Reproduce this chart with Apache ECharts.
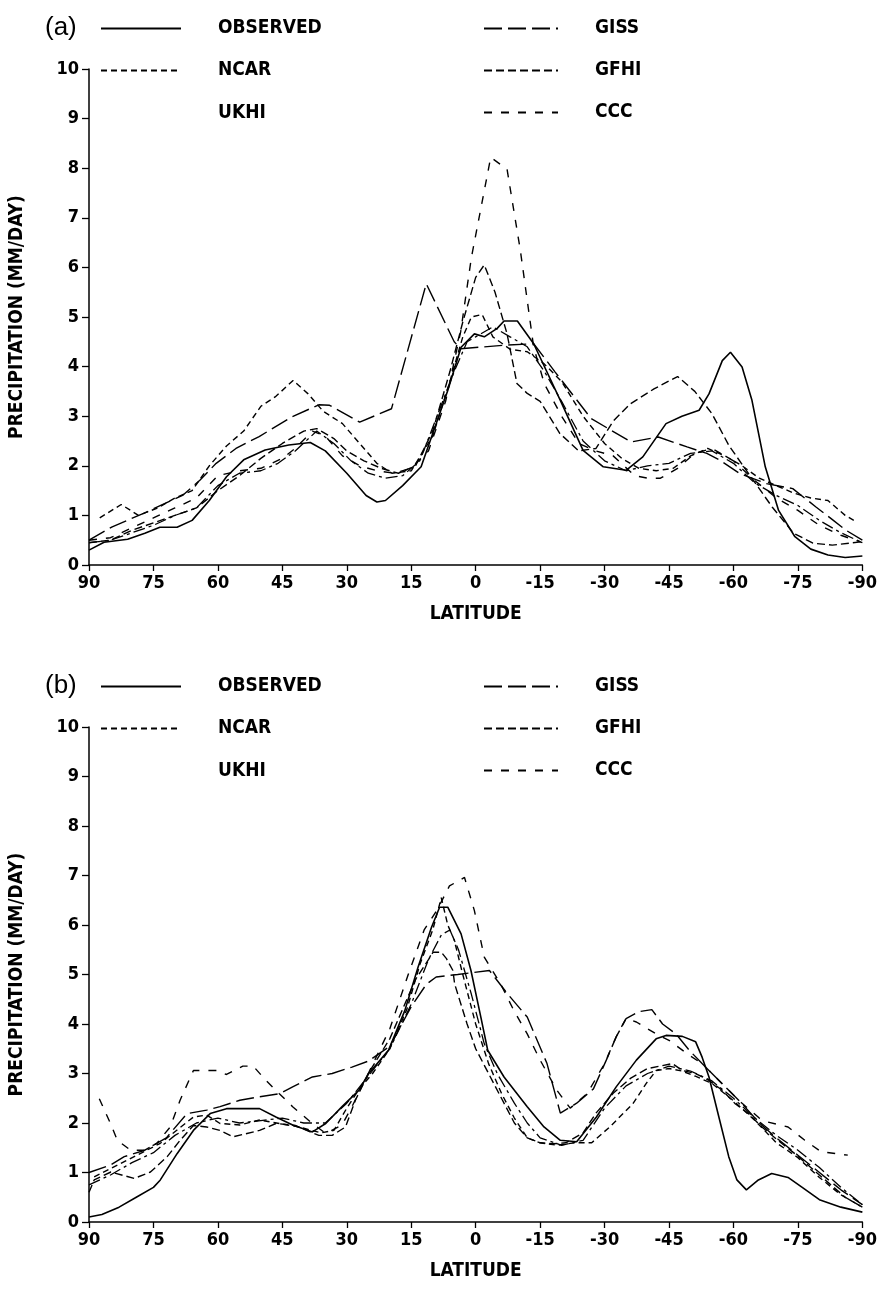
<!DOCTYPE html>
<html><head><meta charset="utf-8">
<script src="https://cdn.jsdelivr.net/npm/echarts@6/dist/echarts.min.js"></script>
<style>html,body{margin:0;padding:0;background:#fff}#c{width:880px;height:1302px}</style>
</head><body><div id="c"></div>
<script>
// ---------- data ----------
const X_TICKS = [90, 75, 60, 45, 30, 15, 0, -15, -30, -45, -60, -75, -90];
const SERIES_NAMES = ['OBSERVED', 'GISS', 'NCAR', 'GFHI', 'UKHI', 'CCC'];

// Panel (a)
const A_OBS_LAT = [90,86.5,81,77,73.5,69.5,66,62,58,54,49,43.5,38.5,35,30,25.5,23,21,17,12.7,9,6.5,3.4,0.3,-2,-5,-6.6,-9.7,-13.5,-19.7,-25,-29.7,-35,-38.9,-44.3,-48,-52,-54.3,-57.4,-59.3,-62,-64.3,-67.4,-70.5,-74.3,-78,-82,-86,-90];
const A_OBS = [0.30,0.46,0.52,0.64,0.76,0.76,0.90,1.30,1.78,2.12,2.32,2.42,2.47,2.30,1.85,1.40,1.27,1.30,1.60,1.98,2.90,3.52,4.39,4.66,4.60,4.77,4.92,4.92,4.46,3.32,2.31,1.98,1.91,2.18,2.85,3.00,3.12,3.45,4.12,4.29,3.99,3.32,1.98,1.10,0.57,0.32,0.20,0.15,0.18];

const A_GISS_LAT = [90,84.6,77.3,68.1,64.2,60.4,55.8,50.4,42.7,36.5,34,27,19.6,11.5,5,3.5,-6.5,-13.5,-18.5,-26.9,-36.2,-42.5,-49.2,-53.8,-56.9,-61.5,-67.7,-73.8,-79.2,-83.1,-86.2,-90];
const A_GISS = [0.50,0.77,1.04,1.41,1.71,2.05,2.35,2.59,2.99,3.23,3.22,2.88,3.15,5.67,4.50,4.36,4.43,4.46,3.89,2.95,2.48,2.58,2.38,2.25,2.11,1.84,1.64,1.54,1.17,0.91,0.70,0.50];

const A_NCAR_LAT = [87.5,82.5,78.5,74,70,66,62,58,54,50,46.5,42.5,39,35.5,31,27,23,19.5,15,10,6,3,1,-1.5,-4,-8,-12,-16,-20,-25,-30,-34,-38,-42,-46,-50,-54,-58,-62,-66,-70,-74,-78,-82,-86,-88];
const A_NCAR = [0.95,1.22,1.00,1.15,1.35,1.50,2.00,2.40,2.70,3.20,3.40,3.72,3.45,3.10,2.85,2.45,2.05,1.85,1.90,2.60,3.70,4.60,5.00,5.05,4.60,4.35,4.30,4.05,3.70,3.00,2.45,2.15,1.95,1.90,1.95,2.20,2.35,2.20,2.00,1.75,1.60,1.45,1.35,1.30,1.00,0.90];

const A_GFHI_LAT = [90,85,80,75,70,65,60,55,50,45,40,37,33,30,26,22,18,14,10,6,3,0,-2,-4.5,-7.3,-9.6,-12,-15,-19.6,-24,-28,-32,-36,-41.5,-47,-51,-55,-59,-64.6,-69,-74,-78.5,-83,-90];
const A_GFHI = [0.45,0.50,0.70,0.85,1.00,1.15,1.50,1.80,2.15,2.45,2.70,2.75,2.55,2.30,2.10,1.95,1.85,2.00,2.70,3.90,4.90,5.80,6.05,5.50,4.66,3.66,3.46,3.30,2.65,2.30,2.35,2.90,3.25,3.55,3.80,3.50,3.05,2.40,1.71,1.17,0.64,0.44,0.40,0.47];

const A_UKHI_LAT = [90,85,80,75,70,65,60,55,50,46,42,37,33,29,25,21,17,13,9,5,2,0,-4,-8,-12,-16,-20,-25,-30,-35,-40,-45,-50,-55,-60,-65,-70,-75,-80,-85,-90];
const A_UKHI = [0.45,0.50,0.65,0.80,1.00,1.15,1.60,1.85,1.90,2.05,2.30,2.70,2.45,2.10,1.85,1.75,1.80,2.10,3.00,3.90,4.50,4.60,4.80,4.60,4.40,3.90,3.30,2.50,2.10,1.90,2.00,2.05,2.25,2.30,2.05,1.65,1.40,1.20,0.90,0.65,0.45];

const A_CCC_LAT = [90,85,80,75,70,65,60,55,50,45,42,38,35,31,27,23,19,15,11,7,3.5,1,-3.5,-7.3,-10.4,-13.5,-16,-20,-24,-28,-32,-37,-40,-43,-47,-51,-55,-60,-65,-70,-75,-80,-85,-90];
const A_CCC = [0.50,0.55,0.75,0.95,1.15,1.35,1.80,1.90,1.95,2.15,2.35,2.70,2.60,2.20,2.00,1.90,1.85,1.95,2.30,3.30,4.70,6.20,8.22,7.98,6.34,4.39,3.65,3.00,2.45,2.30,2.20,1.80,1.75,1.75,1.95,2.25,2.35,2.10,1.70,1.35,1.10,0.80,0.60,0.45];

// Panel (b)
const B_OBS_LAT = [90,87,83,79,75,73.4,69.5,65.7,61.8,58,50.3,46.5,42.6,38,34.9,31.1,27.2,24.9,20.3,16.5,13.4,10.3,8.4,6.5,3.4,1.1,-1.2,-2.8,-6.6,-12,-15.9,-19.7,-23.5,-28.1,-32.7,-37.4,-42,-44.3,-48.1,-51.2,-52.7,-54.3,-56.6,-58.9,-60.8,-63,-65.8,-68.9,-72.7,-76,-80,-85,-90];
const B_OBS = [0.10,0.15,0.30,0.50,0.70,0.85,1.38,1.85,2.19,2.29,2.29,2.12,1.96,1.82,1.99,2.33,2.66,3.00,3.47,4.27,5.15,5.95,6.36,6.36,5.82,5.08,4.14,3.47,2.93,2.33,1.92,1.65,1.62,2.12,2.73,3.27,3.70,3.77,3.75,3.64,3.33,2.93,2.12,1.32,0.85,0.65,0.85,0.98,0.90,0.70,0.45,0.30,0.20];

const B_GISS_LAT = [90,85,81.8,77,72,67.2,62.6,59.5,54.9,50.3,45.7,42.6,38,33.4,28.8,25,20,15,11.5,9.2,4.2,-3.2,-7.4,-12,-16.6,-19.7,-23.5,-27.4,-30.4,-32.7,-35,-38,-41,-43.5,-46.6,-49.7,-52.7,-55,-58.9,-62,-66,-70,-75,-80,-85,-90];
const B_GISS = [1.00,1.15,1.32,1.45,1.70,2.19,2.26,2.33,2.46,2.53,2.59,2.73,2.93,3.00,3.13,3.25,3.55,4.35,4.80,4.95,5.00,5.08,4.61,4.14,3.20,2.20,2.40,2.69,3.27,3.74,4.11,4.25,4.29,4.00,3.80,3.47,3.20,3.00,2.66,2.39,2.00,1.70,1.35,1.00,0.65,0.35];

const B_NCAR_LAT = [88.8,81.1,73.4,65.7,62.6,59.5,54.9,50.3,45.7,41.1,36,33,30,27,24,20,16,13,10,8,6.5,5,3,0,-3,-6,-9,-12,-15,-19,-23,-27,-31.2,-36.6,-39.7,-42,-45,-48,-51,-55,-60,-65,-70,-75,-80,-85,-90];
const B_NCAR = [0.91,1.25,1.59,2.12,2.16,1.99,1.96,2.06,1.99,1.92,1.80,1.85,2.30,2.70,3.00,3.50,4.30,5.20,5.90,6.55,6.00,5.70,5.00,4.00,3.20,2.60,2.10,1.70,1.60,1.55,1.60,1.60,1.92,2.39,2.80,3.06,3.10,3.05,2.95,2.80,2.45,2.05,1.60,1.30,0.90,0.55,0.30];

const B_GFHI_LAT = [90,88.8,84.9,79.5,75.7,71.8,68.8,65.7,62.6,59.5,56.5,50.3,46.5,42,38,36.5,33.4,30.3,28,25,20,17,14,11,9.9,8,6.8,5.3,4.9,2,0,-3,-6,-9,-12,-15,-18,-21,-25,-28,-32,-36,-40,-45.8,-48.1,-51.2,-54.3,-57.4,-60.4,-63.5,-66.6,-71.2,-74.3,-78,-82,-86,-90];
const B_GFHI = [0.60,0.85,1.01,0.88,1.01,1.32,1.65,1.95,1.92,1.85,1.72,1.85,1.99,1.95,1.80,1.75,1.75,1.92,2.46,3.00,3.70,4.30,4.90,5.30,5.45,5.45,5.32,5.08,4.81,4.00,3.50,3.00,2.50,2.00,1.70,1.60,1.58,1.60,1.80,2.20,2.60,2.90,3.10,3.20,3.06,3.00,2.86,2.66,2.39,2.19,1.92,1.59,1.38,1.10,0.80,0.50,0.30];

const B_UKHI_LAT = [90,85,80,75,70,65,60,55,50,45,40,35,30,25,20,15,11,8,6,4,1,-2,-5,-9,-12,-15,-20,-25,-30,-35,-40,-45,-50,-55,-60,-65,-70,-75,-80,-85,-90];
const B_UKHI = [0.75,0.95,1.20,1.40,1.75,2.00,2.10,2.00,2.05,2.10,2.00,2.00,2.40,2.95,3.50,4.40,5.30,5.80,5.90,5.50,4.60,3.60,3.00,2.40,2.00,1.70,1.55,1.65,2.30,2.75,3.00,3.15,3.05,2.85,2.50,2.10,1.75,1.45,1.10,0.70,0.35];

const B_CCC_LAT = [87.6,85,83.4,80.3,77.2,74.2,71.1,68.8,65.7,60.3,58,54.2,51.8,48.8,45.7,42.6,38,34.9,31.1,28.8,25,20,15.7,12,9,6.1,2.6,0.3,-2,-5.8,-8.9,-12,-15,-18.9,-22,-26,-30,-33,-35,-37.4,-42,-45,-49.7,-52.7,-55.8,-58.9,-62,-66,-68,-72.7,-76.6,-80.4,-86.6];
const B_CCC = [2.49,1.99,1.65,1.45,1.45,1.59,1.92,2.46,3.06,3.06,2.98,3.15,3.15,2.86,2.59,2.33,1.99,1.79,1.96,2.33,3.00,3.90,5.00,5.90,6.30,6.79,6.96,6.29,5.35,4.81,4.27,3.80,3.27,2.66,2.30,2.60,3.20,3.80,4.11,4.04,3.80,3.67,3.37,3.20,2.93,2.66,2.40,2.10,2.02,1.92,1.65,1.42,1.35];

// ---------- chart ----------
const FONT = "'Liberation Sans Narrow','Arial Narrow','DejaVu Sans Condensed','Liberation Sans',sans-serif";
const STYLE = {
  OBSERVED: { type: 'solid', width: 1.6 },
  GISS: { type: [18, 6], width: 1.4 },
  NCAR: { type: [6, 4], width: 1.4 },
  GFHI: { type: [8, 4], width: 1.4 },
  UKHI: { type: [12, 4, 3, 4], width: 1.3 },
  CCC: { type: [8, 9], width: 1.4 }
};
function pairs(lat, val) {
  const n = Math.min(lat.length, val.length);
  const out = [];
  for (let i = 0; i < n; i++) out.push([lat[i], val[i]]);
  return out;
}
const PANELS = [
  { top: 69, height: 496, legendTop: 14, tag: '(a)', tagTop: 10, data: { OBSERVED: [A_OBS_LAT, A_OBS], GISS: [A_GISS_LAT, A_GISS], NCAR: [A_NCAR_LAT, A_NCAR], GFHI: [A_GFHI_LAT, A_GFHI], UKHI: [A_UKHI_LAT, A_UKHI], CCC: [A_CCC_LAT, A_CCC] } },
  { top: 727, height: 495, legendTop: 672, tag: '(b)', tagTop: 668, data: { OBSERVED: [B_OBS_LAT, B_OBS], GISS: [B_GISS_LAT, B_GISS], NCAR: [B_NCAR_LAT, B_NCAR], GFHI: [B_GFHI_LAT, B_GFHI], UKHI: [B_UKHI_LAT, B_UKHI], CCC: [B_CCC_LAT, B_CCC] } }
];
const labelFont = { color: '#000', fontFamily: FONT, fontWeight: 'bold', fontSize: 18 };
const nameFont = { color: '#000', fontFamily: FONT, fontWeight: 'bold', fontSize: 19 };

const option = {
  backgroundColor: '#fff',
  animation: false,
  title: PANELS.map(p => ({ text: p.tag, left: 40, top: p.tagTop, textStyle: { fontFamily: "'Liberation Sans',Arial,sans-serif", fontWeight: 'normal', fontSize: 26, color: '#000' } })),
  grid: PANELS.map(p => ({ left: 88, right: 12, top: p.top, height: p.height })),
  xAxis: PANELS.map((p, i) => ({
    type: 'value', gridIndex: i, min: -90, max: 90, interval: 15, inverse: true,
    name: 'LATITUDE', nameLocation: 'middle', nameGap: 40,
    nameTextStyle: nameFont,
    axisLine: { show: true, onZero: false, lineStyle: { color: '#000', width: 1.5 } },
    axisTick: { show: true, length: 6, lineStyle: { color: '#000', width: 1.3 } },
    axisLabel: Object.assign({ margin: 9 }, labelFont),
    splitLine: { show: false }
  })),
  yAxis: PANELS.map((p, i) => ({
    type: 'value', gridIndex: i, min: 0, max: 10, interval: 1,
    name: 'PRECIPITATION (MM/DAY)', nameLocation: 'middle', nameGap: 62, nameRotate: 90,
    nameTextStyle: nameFont,
    axisLine: { show: true, onZero: false, lineStyle: { color: '#000', width: 1.5 } },
    axisTick: { show: true, length: 7, lineStyle: { color: '#000', width: 1.3 } },
    axisLabel: Object.assign({ margin: 10 }, labelFont),
    splitLine: { show: false }
  })),
  legend: [],
  series: []
};
const legendText = {
  formatter: n => '{t|' + n + '}',
  textStyle: { rich: { t: { padding: [0, 0, 0, 32], fontFamily: FONT, fontWeight: 'bold', fontSize: 19, color: '#000' } } }
};
PANELS.forEach((p, i) => {
  option.legend.push(Object.assign({
    orient: 'vertical', left: 95, top: p.legendTop, itemWidth: 80, itemHeight: 20, itemGap: 23, selectedMode: false,
    itemStyle: { color: 'rgba(0,0,0,0)', borderWidth: 0 },
    data: ['OBSERVED', 'NCAR', { name: 'UKHI', icon: 'none' }]
  }, legendText));
  option.legend.push(Object.assign({
    orient: 'vertical', left: 478, top: p.legendTop, itemWidth: 74, itemHeight: 20, itemGap: 23, selectedMode: false,
    itemStyle: { color: 'rgba(0,0,0,0)', borderWidth: 0 },
    data: ['GISS', 'GFHI', 'CCC']
  }, legendText));
  SERIES_NAMES.forEach(name => {
    const d = p.data[name];
    option.series.push({
      type: 'line', name: name, xAxisIndex: i, yAxisIndex: i,
      data: pairs(d[0], d[1]), symbol: 'none', showSymbol: false,
      lineStyle: Object.assign({ color: '#000' }, STYLE[name]),
      itemStyle: { color: '#000' },
      z: name === 'OBSERVED' ? 3 : 2
    });
  });
});
const chart = echarts.init(document.getElementById('c'), null, { renderer: 'canvas' });
chart.setOption(option);
</script>
</body></html>
